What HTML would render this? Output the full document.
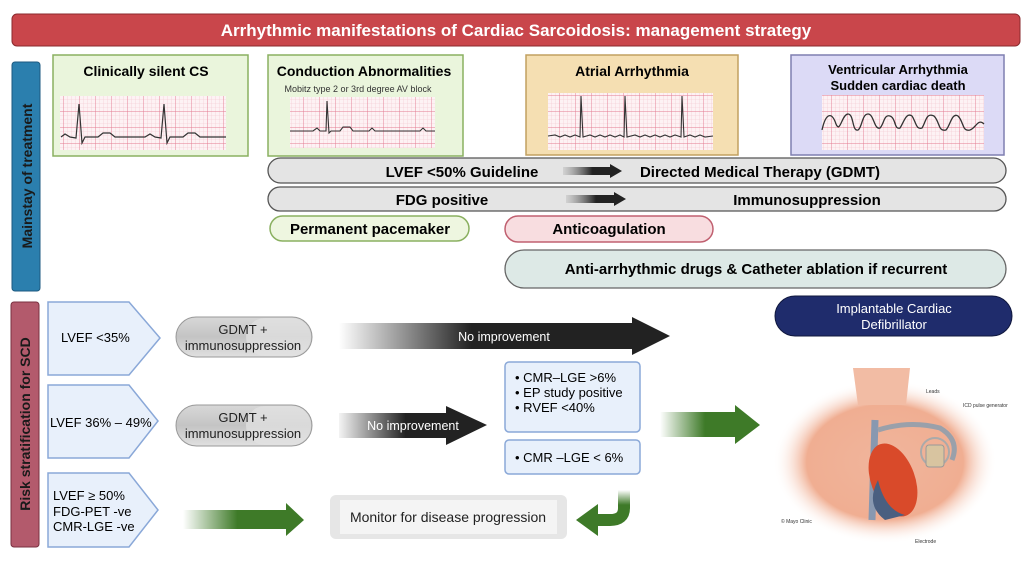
<!DOCTYPE html>
<html><head><meta charset="utf-8"><style>
html,body{margin:0;padding:0;background:#fff}
svg{display:block}
text{font-family:"Liberation Sans",sans-serif}
</style></head><body>
<svg width="1032" height="583" viewBox="0 0 1032 583" xmlns="http://www.w3.org/2000/svg">
<defs>
<pattern id="small" width="4" height="4" patternUnits="userSpaceOnUse"><path d="M4 0V4H0" fill="none" stroke="#f3c3cc" stroke-width="0.6"/></pattern>
<pattern id="grid" width="16" height="16" patternUnits="userSpaceOnUse"><rect width="16" height="16" fill="#fdf2f4"/><rect width="16" height="16" fill="url(#small)"/><path d="M16 0V16H0" fill="none" stroke="#e47a90" stroke-width="0.9"/></pattern>
<linearGradient id="blk" x1="0" x2="1"><stop offset="0" stop-color="#222" stop-opacity="0"/><stop offset="0.4" stop-color="#222"/><stop offset="1" stop-color="#222"/></linearGradient>
<linearGradient id="blk2" x1="0" x2="1"><stop offset="0" stop-color="#222" stop-opacity="0.05"/><stop offset="0.45" stop-color="#222"/><stop offset="1" stop-color="#222"/></linearGradient>
<linearGradient id="grn" x1="0" x2="1"><stop offset="0" stop-color="#3e7a28" stop-opacity="0"/><stop offset="0.45" stop-color="#3e7a28"/><stop offset="1" stop-color="#3e7a28"/></linearGradient>
<linearGradient id="grnv" x1="0" y1="0" x2="0" y2="1"><stop offset="0" stop-color="#3e7a28" stop-opacity="0"/><stop offset="0.5" stop-color="#3e7a28"/></linearGradient>
<linearGradient id="arr" x1="0" x2="1"><stop offset="0" stop-color="#888" stop-opacity="0.2"/><stop offset="0.5" stop-color="#222"/></linearGradient>
<linearGradient id="pill" x1="0" y1="0" x2="0" y2="1"><stop offset="0" stop-color="#d8d8d8"/><stop offset="0.5" stop-color="#c4c4c4"/><stop offset="1" stop-color="#e0e0e0"/></linearGradient>
<radialGradient id="skin" cx="0.5" cy="0.5" r="0.5"><stop offset="0" stop-color="#f0b59c"/><stop offset="0.7" stop-color="#f0ae92"/><stop offset="1" stop-color="#fff" stop-opacity="0"/></radialGradient>
</defs>

<rect x="12" y="14" width="1008" height="32" rx="5" fill="#c9464b" stroke="#8a2a2e"/>
<text x="516" y="36" text-anchor="middle" fill="#fff" font-size="17" font-weight="bold">Arrhythmic manifestations of Cardiac Sarcoidosis: management strategy</text>

<rect x="12" y="62" width="28" height="229" rx="3" fill="#2b7fae" stroke="#1d5a80"/>
<text transform="translate(32,176) rotate(-90)" text-anchor="middle" font-size="14" font-weight="bold" fill="#1a1a1a">Mainstay of treatment</text>
<rect x="11" y="302" width="28" height="245" rx="3" fill="#b35a6c" stroke="#7a3040"/>
<text transform="translate(30,424) rotate(-90)" text-anchor="middle" font-size="14" font-weight="bold" fill="#1a1a1a">Risk stratification for SCD</text>

<rect x="53" y="55" width="195" height="101" fill="#eaf5dc" stroke="#8ab060" stroke-width="1.5"/>
<text x="146" y="76" text-anchor="middle" font-size="14" font-weight="bold">Clinically silent CS</text>
<rect x="60" y="96" width="166" height="54" fill="url(#grid)"/>
<polyline fill="none" stroke="#333" stroke-width="1.2" points="61,137 65,134 70,137 76,138 79,104 82,143 85,137 98,137 103,133 110,133 115,137 145,137 150,134 155,137 161,138 164,104 167,143 170,137 183,137 188,133 195,133 200,137 226,137"/>

<rect x="268" y="55" width="195" height="101" fill="#eaf5dc" stroke="#8ab060" stroke-width="1.5"/>
<text x="364" y="76" text-anchor="middle" font-size="14" font-weight="bold">Conduction Abnormalities</text>
<text x="358" y="92" text-anchor="middle" font-size="9" fill="#333">Mobitz type 2 or 3rd degree AV block</text>
<rect x="290" y="97" width="145" height="51" fill="url(#grid)"/>
<polyline fill="none" stroke="#333" stroke-width="1.1" points="290,131 313,131 317,128 320,131 326,131 327,101 329,133 331,131 340,131 343,127 350,127 353,131 369,131 372,128 375,131 420,131 423,128 426,131 435,131"/>

<rect x="526" y="55" width="212" height="100" fill="#f5dfb2" stroke="#c2a060" stroke-width="1.5"/>
<text x="632" y="76" text-anchor="middle" font-size="14" font-weight="bold">Atrial Arrhythmia</text>
<rect x="548" y="93" width="165" height="57" fill="url(#grid)"/>
<polyline fill="none" stroke="#333" stroke-width="1.1" points="548,136 555,135 560,137 565,135 570,137 575,135 580,137 581,96 583,137 590,135 595,137 600,135 605,137 610,135 615,137 620,135 624,137 625,96 627,137 635,135 640,137 645,135 650,137 655,135 660,137 665,135 670,137 675,135 681,137 682,96 684,137 690,135 695,137 700,135 705,137 713,136"/>

<rect x="791" y="55" width="213" height="100" fill="#dcdaf6" stroke="#7f7fb0" stroke-width="1.5"/>
<text x="898" y="74" text-anchor="middle" font-size="13" font-weight="bold">Ventricular Arrhythmia</text>
<text x="898" y="90" text-anchor="middle" font-size="13" font-weight="bold">Sudden cardiac death</text>
<rect x="822" y="95" width="162" height="55" fill="url(#grid)"/>
<path fill="none" stroke="#333" stroke-width="1.3" d="M822,130 C826,112 832,112 836,124 C840,134 842,114 848,114 C854,114 852,132 858,130 C862,128 862,114 868,114 C874,114 874,130 880,128 C884,124 884,114 890,116 C896,118 894,130 900,128 C904,122 906,112 912,116 C916,122 916,130 922,128 C926,122 926,112 934,116 C940,122 938,132 946,130 C950,126 952,112 958,116 C964,122 962,132 970,130 C976,128 978,118 984,124"/>

<rect x="268" y="158" width="738" height="25" rx="12.5" fill="#e4e4e4" stroke="#555" stroke-width="1.3"/>
<text x="462" y="177" text-anchor="middle" font-size="15" font-weight="bold">LVEF &lt;50% Guideline</text>
<polygon points="563,167 610,167 610,164 622,171 610,178 610,175 563,175" fill="url(#arr)"/>
<text x="760" y="177" text-anchor="middle" font-size="15" font-weight="bold">Directed Medical Therapy (GDMT)</text>
<rect x="268" y="187" width="738" height="24" rx="12" fill="#e4e4e4" stroke="#555" stroke-width="1.3"/>
<text x="442" y="205" text-anchor="middle" font-size="15" font-weight="bold">FDG positive</text>
<polygon points="566,195 614,195 614,192 626,199 614,206 614,203 566,203" fill="url(#arr)"/>
<text x="807" y="205" text-anchor="middle" font-size="15" font-weight="bold">Immunosuppression</text>
<rect x="270" y="216" width="199" height="25" rx="12.5" fill="#eef6e0" stroke="#8ab060" stroke-width="1.5"/>
<text x="370" y="234" text-anchor="middle" font-size="15" font-weight="bold">Permanent pacemaker</text>
<rect x="505" y="216" width="208" height="26" rx="13" fill="#f8dde0" stroke="#c06070" stroke-width="1.5"/>
<text x="609" y="234" text-anchor="middle" font-size="15" font-weight="bold">Anticoagulation</text>
<rect x="505" y="250" width="501" height="38" rx="19" fill="#dde9e6" stroke="#666" stroke-width="1.3"/>
<text x="756" y="274" text-anchor="middle" font-size="15" font-weight="bold">Anti-arrhythmic drugs &amp; Catheter ablation if recurrent</text>

<!-- pentagons -->
<g fill="#e8f0fb" stroke="#8aa8d8" stroke-width="1.5">
<polygon points="48,302 129,302 160,338 129,375 48,375"/>
<polygon points="48,385 129,385 158,421 129,458 48,458"/>
<polygon points="48,473 129,473 158,510 129,547 48,547"/>
</g>
<text x="61" y="342" font-size="13">LVEF &lt;35%</text>
<text x="50" y="427" font-size="13">LVEF  36% – 49%</text>
<text x="53" y="500" font-size="13">LVEF ≥ 50%</text>
<text x="53" y="516" font-size="13">FDG-PET -ve</text>
<text x="53" y="531" font-size="13">CMR-LGE -ve</text>

<g stroke="#999" stroke-width="1">
<rect x="176" y="317" width="136" height="40" rx="20" fill="url(#pill)"/>
<rect x="176" y="405" width="136" height="41" rx="20.5" fill="url(#pill)"/>
</g>
<rect x="246" y="318" width="65" height="38" rx="19" fill="#e3e3e3" opacity="0.7"/>
<rect x="246" y="406" width="65" height="39" rx="19" fill="#e3e3e3" opacity="0.7"/>
<text x="243" y="334" text-anchor="middle" font-size="13" fill="#222">GDMT +</text>
<text x="243" y="350" text-anchor="middle" font-size="13" fill="#222">immunosuppression</text>
<text x="243" y="422" text-anchor="middle" font-size="13" fill="#222">GDMT +</text>
<text x="243" y="438" text-anchor="middle" font-size="13" fill="#222">immunosuppression</text>

<polygon points="339,323 632,323 632,317 670,336 632,355 632,349 339,349" fill="url(#blk)"/>
<text x="504" y="341" text-anchor="middle" font-size="12.5" fill="#fff">No improvement</text>
<polygon points="339,413 446,413 446,406 487,425 446,445 446,438 339,438" fill="url(#blk2)"/>
<text x="413" y="430" text-anchor="middle" font-size="12.5" fill="#fff">No improvement</text>

<rect x="505" y="362" width="135" height="70" rx="4" fill="#e8f0fb" stroke="#8aa8d8" stroke-width="1.5"/>
<text x="515" y="382" font-size="13">•  CMR–LGE &gt;6%</text>
<text x="515" y="397" font-size="13">•  EP study positive</text>
<text x="515" y="412" font-size="13">•  RVEF &lt;40%</text>
<rect x="505" y="440" width="135" height="34" rx="4" fill="#e8f0fb" stroke="#8aa8d8" stroke-width="1.5"/>
<text x="515" y="462" font-size="13">•  CMR –LGE  &lt; 6%</text>

<polygon points="183,510 286,510 286,503 304,520 286,536 286,529 183,529" fill="url(#grn)"/>
<polygon points="660,412 735,412 735,405 760,425 735,444 735,437 660,437" fill="url(#grn)"/>
<path d="M624,490 L624,508 Q624,520 610,520 L596,520" fill="none" stroke="url(#grnv)" stroke-width="12"/>
<polygon points="598,504 576,520 598,536" fill="#3e7a28"/>

<rect x="330" y="495" width="237" height="44" rx="6" fill="#e6e6e6"/>
<rect x="340" y="500" width="217" height="34" fill="#f4f4f4"/>
<text x="448" y="522" text-anchor="middle" font-size="14" fill="#222">Monitor for disease progression</text>

<rect x="775" y="296" width="237" height="40" rx="20" fill="#1f2c6c" stroke="#10183e"/>
<text x="894" y="313" text-anchor="middle" font-size="13" fill="#fff">Implantable Cardiac</text>
<text x="894" y="329" text-anchor="middle" font-size="13" fill="#fff">Defibrillator</text>

<ellipse cx="885" cy="462" rx="112" ry="82" fill="url(#skin)"/>
<path d="M853,368 L910,368 L906,405 L858,405 Z" fill="#f2bca4"/>
<path d="M875,420 L872,520" stroke="#8898b0" stroke-width="7" fill="none"/>
<path d="M878,430 Q910,420 940,428 Q960,440 952,460" stroke="#9aa0aa" stroke-width="5" fill="none"/>
<ellipse cx="893" cy="480" rx="22" ry="38" fill="#d94a2a" transform="rotate(-20 893 480)"/>
<path d="M878,480 Q885,510 905,515 L885,520 Q865,505 878,480Z" fill="#4a5f80"/>
<circle cx="935" cy="452" r="14" fill="none" stroke="#aaa" stroke-width="2"/>
<rect x="926" y="445" width="18" height="22" rx="3" fill="#d8c4a0" stroke="#999"/>
<text x="926" y="393" font-size="5" fill="#333">Leads</text>
<text x="963" y="407" font-size="5" fill="#333">ICD pulse generator</text>
<text x="781" y="523" font-size="5" fill="#333">© Mayo Clinic</text>
<text x="915" y="543" font-size="5" fill="#333">Electrode</text>
</svg>
</body></html>
